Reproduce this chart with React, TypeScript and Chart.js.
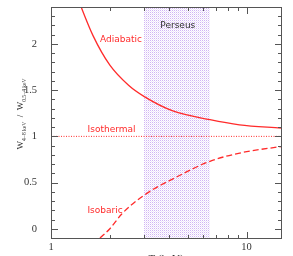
import React, { useEffect, useRef } from "react";
import { Chart, registerables } from "chart.js";
Chart.register(...registerables);

// ---- data ----
const adiabaticT = [1.38, 1.42, 1.64, 2, 2.5, 3, 4.2, 6.5, 9.2, 15];
const adiabaticW = [2.48, 2.41, 2.09, 1.77, 1.55, 1.43, 1.275, 1.18, 1.125, 1.09];
const isothermalT = [1, 15];
const isothermalW = [1, 1];
const isobaricT = [1.78, 2, 2.3, 3, 4.34, 6.5, 9.55, 15];
const isobaricW = [-0.1, 0.0, 0.16, 0.365, 0.555, 0.73, 0.826, 0.89];
const perseusBand = [3, 6.5];

const xRange = [1, 15];
const yRange = [-0.1, 2.4];
const xMajorTicks = [1, 10];
const xMinorTicks = [2, 3, 4, 5, 6, 7, 8, 9];
const yMajorTicks = [0, 0.5, 1, 1.5, 2];
const yMinorTicks = [-0.1, 0.1, 0.2, 0.3, 0.4, 0.6, 0.7, 0.8, 0.9, 1.1, 1.2, 1.3, 1.4, 1.6, 1.7, 1.8, 1.9, 2.1, 2.2, 2.3, 2.4];

const labelNames = ["Adiabatic", "Isothermal", "Isobaric", "Perseus"];
const labelT = [2.28, 2.04, 1.89, 4.45];
const labelW = [2.05, 1.076, 0.195, 2.195];

const RED = "#ff2b2b";

function makePattern(ctx: CanvasRenderingContext2D) {
  const c = document.createElement("canvas");
  c.width = 2;
  c.height = 2;
  const p = c.getContext("2d")!;
  p.fillStyle = "#ffffff";
  p.fillRect(0, 0, 2, 2);
  p.fillStyle = "rgb(208,180,244)";
  p.fillRect(0, 0, 1, 1);
  p.fillStyle = "rgb(238,228,251)";
  p.fillRect(1, 1, 1, 1);
  return ctx.createPattern(c, "repeat")!;
}

const decorPlugin = {
  id: "decor",
  beforeDatasetsDraw(chart: any) {
    const { ctx, chartArea, scales } = chart;
    const x0 = Math.round(scales.x.getPixelForValue(perseusBand[0]));
    const x1 = Math.round(scales.x.getPixelForValue(perseusBand[1]));
    ctx.save();
    ctx.fillStyle = makePattern(ctx);
    ctx.fillRect(x0, chartArea.top, x1 - x0, chartArea.bottom - chartArea.top);
    ctx.restore();
  },
  afterDatasetsDraw(chart: any) {
    const { ctx, chartArea, scales } = chart;
    const { left, right, top, bottom } = chartArea;
    ctx.save();
    // frame
    ctx.strokeStyle = "#555";
    ctx.lineWidth = 1;
    ctx.strokeRect(left + 0.5, top + 0.5, right - left, bottom - top);
    // ticks
    const tick = (px: number, len: number, vertical: boolean) => {
      ctx.beginPath();
      if (vertical) {
        const x = Math.round(px) + 0.5;
        ctx.moveTo(x, bottom);
        ctx.lineTo(x, bottom - len);
        ctx.moveTo(x, top + 1);
        ctx.lineTo(x, top + 1 + len);
      } else {
        const y = Math.round(px) + 0.5;
        ctx.moveTo(left + 1, y);
        ctx.lineTo(left + 1 + len, y);
        ctx.moveTo(right, y);
        ctx.lineTo(right - len, y);
      }
      ctx.stroke();
    };
    xMajorTicks.forEach((v) => tick(scales.x.getPixelForValue(v), 6, true));
    xMinorTicks.forEach((v) => tick(scales.x.getPixelForValue(v), 3, true));
    yMajorTicks.forEach((v) => tick(scales.y.getPixelForValue(v), 6, false));
    yMinorTicks.forEach((v) => tick(scales.y.getPixelForValue(v), 3, false));

    // x tick labels
    ctx.font = '10.5px "Liberation Serif"';
    ctx.fillStyle = "#333";
    ctx.textAlign = "center";
    ctx.textBaseline = "middle";
    xMajorTicks.forEach((v) => ctx.fillText(String(v), scales.x.getPixelForValue(v), bottom + 9));

    // annotations
    ctx.font = '9px "DejaVu Sans"';
    labelNames.forEach((name, i) => {
      ctx.fillStyle = name === "Perseus" ? "#333" : RED;
      ctx.fillText(name, scales.x.getPixelForValue(labelT[i]), scales.y.getPixelForValue(labelW[i]));
    });

    // y-axis title with subscripts
    const mainF = '9px "Liberation Serif"';
    const subF = '5.5px "Liberation Serif"';
    const parts = [
      { t: "W", f: mainF, dy: 0 },
      { t: "4\u22128 keV", f: subF, dy: 2.5 },
      { t: "  /  ", f: mainF, dy: 0 },
      { t: "W", f: mainF, dy: 0 },
      { t: "0.5\u22124 keV", f: subF, dy: 2.5 },
    ];
    let total = 0;
    const widths = parts.map((p) => {
      ctx.font = p.f;
      const w = ctx.measureText(p.t).width;
      total += w;
      return w;
    });
    ctx.save();
    ctx.translate(23, 114);
    ctx.rotate(-Math.PI / 2);
    ctx.fillStyle = "#333";
    ctx.textAlign = "left";
    ctx.textBaseline = "alphabetic";
    let cx = -total / 2;
    parts.forEach((p, i) => {
      ctx.font = p.f;
      ctx.fillText(p.t, cx, p.dy);
      cx += widths[i];
    });
    ctx.restore();

    // x-axis title (mostly cut off at the bottom)
    ctx.font = '11px "Liberation Serif"';
    ctx.fillStyle = "#333";
    ctx.textAlign = "center";
    ctx.textBaseline = "top";
    ctx.fillText("T (keV)", (left + right) / 2, 254);
    ctx.restore();
  },
};

export default function App() {
  const ref = useRef<HTMLCanvasElement | null>(null);
  useEffect(() => {
    if (!ref.current) return;
    const toPts = (xs: number[], ys: number[]) => xs.map((x, i) => ({ x, y: ys[i] }));
    const chart = new Chart(ref.current, {
      type: "line",
      data: {
        datasets: [
          {
            label: "Adiabatic",
            data: toPts(adiabaticT, adiabaticW),
            borderColor: RED,
            borderWidth: 1.3,
            pointRadius: 0,
            cubicInterpolationMode: "monotone",
            fill: false,
          },
          {
            label: "Isothermal",
            data: toPts(isothermalT, isothermalW),
            borderColor: RED,
            borderWidth: 1,
            borderDash: [1, 1.5],
            pointRadius: 0,
            fill: false,
          },
          {
            label: "Isobaric",
            data: toPts(isobaricT, isobaricW),
            borderColor: RED,
            borderWidth: 1.3,
            borderDash: [6, 3],
            pointRadius: 0,
            cubicInterpolationMode: "monotone",
            fill: false,
          },
        ],
      },
      options: {
        animation: false,
        responsive: false,
        devicePixelRatio: 1,
        layout: { padding: { top: 7, right: 12, left: 0, bottom: 0 } },
        plugins: { legend: { display: false }, tooltip: { enabled: false } },
        scales: {
          x: {
            type: "logarithmic",
            min: xRange[0],
            max: xRange[1],
            grid: { display: false },
            border: { display: false },
            afterBuildTicks: (s: any) => {
              s.ticks = xMajorTicks.map((v) => ({ value: v }));
            },
            afterFit: (s: any) => {
              s.height = 18;
              s.paddingLeft = 0;
              s.paddingRight = 0;
            },
            ticks: { display: false },
          },
          y: {
            type: "linear",
            min: yRange[0],
            max: yRange[1],
            grid: { display: false },
            border: { display: false },
            afterBuildTicks: (s: any) => {
              s.ticks = yMajorTicks.map((v) => ({ value: v }));
            },
            afterFit: (s: any) => {
              s.width = 51;
              s.paddingTop = 0;
              s.paddingBottom = 0;
            },
            ticks: {
              padding: 6,
              color: "#333",
              font: { family: "Liberation Serif", size: 10.5 },
              callback: (v: any) => String(v),
            },
          },
        },
      },
      plugins: [decorPlugin],
    } as any);
    return () => chart.destroy();
  }, []);
  return (
    <div style={{ position: "absolute", left: 0, top: 0, width: 293, height: 256 }}>
      <canvas ref={ref} width={293} height={256} />
    </div>
  );
}
